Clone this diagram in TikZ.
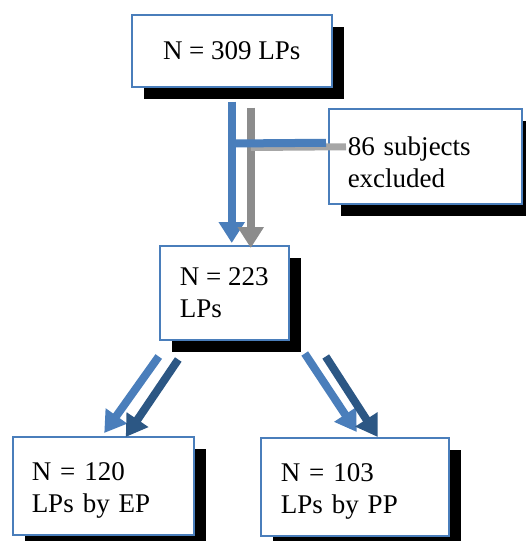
\documentclass[tikz,border=0pt]{standalone}
\usepackage{fontspec}
\setmainfont{Liberation Serif}
\usetikzlibrary{arrows.meta,calc,shadows}
\definecolor{boxblue}{HTML}{4A7EBB}
\definecolor{arrblue}{HTML}{4A7EBB}
\definecolor{darkarr}{HTML}{2C5784}
\definecolor{arrgray}{HTML}{8C8C8C}
\definecolor{lightgrayx}{HTML}{A6A6A6}
\begin{document}
\begin{tikzpicture}[x=1pt,y=-1pt,
  box/.style={draw=boxblue, line width=1.5pt, fill=white, inner ysep=0pt, anchor=north west,
    font=\fontsize{27}{32}\selectfont,
    general shadow={fill=black, shadow xshift=12pt, shadow yshift=-12pt}},
  fat/.style={line width=8pt, -{Triangle[width=25pt,length=21pt]}},
]
\useasboundingbox (0,0) rectangle (525,541);

\node[box, minimum width=200pt, minimum height=72pt] (top) at (131,14) {N = 309 LPs};
\node[box, text width=155pt, inner xsep=19pt, minimum height=95pt, align=left] (excl) at (328,108) {\rule{0pt}{30pt}86 subjects\\excluded};
\node[box, minimum width=129pt, inner xsep=0pt, minimum height=94pt, align=left] (mid) at (159,245) {N = 223\\LPs};
\node[box, text width=143pt, inner xsep=19pt, minimum height=98pt, align=left] (bl) at (12,436) {\rule{0pt}{28pt}N = 120\\LPs by EP};
\node[box, text width=148pt, inner xsep=20pt, minimum height=98pt, align=left] (br) at (260,437) {\rule{0pt}{28pt}N = 103\\LPs by PP};

% vertical arrows
\draw[fat, arrblue] ($(top.south)+(0,14)$) -- ($(top.south |- mid.north)+(0,-2)$);
\draw[fat, arrgray] ($(top.south)+(19,20)$) -- ($(top.south |- mid.north)+(19,3)$);
% horizontal branches
\draw[line width=7pt, lightgrayx] ($(top.south)+(19,60)$) -- ($(excl.west)+(18,-9.5)$);
\draw[line width=8pt, arrblue] ($(top.south)+(0,56)$) -- ($(excl.west)+(-2,-13.5)$);
% diagonal arrows
\draw[fat, arrblue] ($(mid.south)+(-65.5,16)$) -- ($(bl.north)+(1,-3)$);
\draw[fat, darkarr] ($(mid.south)+(-46,19)$) -- ($(bl.north)+(22.5,1)$);
\draw[fat, arrblue] ($(mid.south)+(80.5,13)$) -- ($(br.north)+(2,-5)$);
\draw[fat, darkarr] ($(mid.south)+(101.5,16)$) -- ($(br.north)+(23,0)$);
\end{tikzpicture}
\end{document}
